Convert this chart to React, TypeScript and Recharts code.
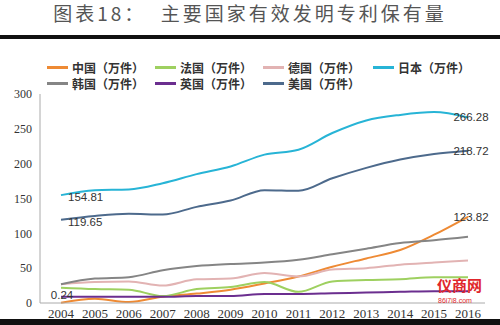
import React from "react";
import { LineChart, Line, XAxis, YAxis, LabelList } from "recharts";

const years = ["2004", "2005", "2006", "2007", "2008", "2009", "2010", "2011", "2012", "2013", "2014", "2015", "2016"];
const china = [0.24, 6, 1.5, 9, 13.5, 19, 28, 38, 52, 64, 76, 98, 123.82];
const france = [22, 20, 19, 10, 20, 23, 30, 16, 31, 33, 34, 37, 37];
const germany = [27, 30, 31, 25, 34, 35, 43, 38, 48, 50, 55, 58, 61];
const japan = [154.81, 162, 163, 172, 185, 196, 213, 220, 244, 262, 270, 274, 266.28];
const korea = [27, 35, 37, 47, 53, 56, 58, 62, 70, 78, 86, 90, 95];
const uk = [9, 9, 9, 9, 10, 10, 13, 13, 14, 15, 16, 17, 17];
const usa = [119.65, 125, 128, 127, 138, 147, 162, 161, 179, 194, 206, 214, 218.72];
const yTicks = [0, 50, 100, 150, 200, 250, 300];

const series = [
  { key: "cn", name: "中国（万件）", color: "#EE8A34", values: china },
  { key: "fr", name: "法国（万件）", color: "#9ED060", values: france },
  { key: "de", name: "德国（万件）", color: "#E2B3B3", values: germany },
  { key: "jp", name: "日本（万件）", color: "#27B4D6", values: japan },
  { key: "kr", name: "韩国（万件）", color: "#858585", values: korea },
  { key: "uk", name: "英国（万件）", color: "#6B2E8F", values: uk },
  { key: "us", name: "美国（万件）", color: "#4D6A8C", values: usa },
];

const data = years.map((y, i) => {
  const row: any = { year: y };
  series.forEach((s) => (row[s.key] = s.values[i]));
  return row;
});

const last = years.length - 1;

// labels shown only at first / last point of some series
const makeLabel = (which: number[], pos: "right" | "top") => (props: any) => {
  const { x, y, value, index } = props;
  if (!which.includes(index)) return null;
  let tx = x + 3;
  let ty = y;
  let anchor: "start" | "middle" = "middle";
  if (index === 0 && pos === "right") {
    tx = x + 7;
    ty = y + 2;
    anchor = "start";
  } else if (index === 0 && pos === "top") {
    tx = x + 1;
    ty = y - 8;
  }
  return (
    <text x={tx} y={ty} textAnchor={anchor} dominantBaseline="central"
      fontSize={11.5} fontFamily="Liberation Sans, Arial, sans-serif" fill="#333">
      {value}
    </text>
  );
};

export default function App() {
  return (
    <div style={{ position: "relative", width: 500, height: 325, background: "#fff", overflow: "hidden" }}>
      <style>{"body{margin:0}"}</style>
      <div style={{ position: "absolute", top: 1, left: 0, width: 500, textAlign: "center", fontFamily: "Noto Sans CJK SC", fontSize: 19, lineHeight: "24px", color: "#555", letterSpacing: 3 }}>
        图表18：&nbsp;&nbsp;主要国家有效发明专利保有量
      </div>
      <div style={{ position: "absolute", top: 35, left: 0, width: 500, height: 4, background: "#111" }} />
      <div style={{ position: "absolute", top: 60, left: 47, display: "grid", gridTemplateColumns: "108px 108px 110px 110px", rowGap: 1 }}>
        {series.map((s) => (
          <div key={s.key} style={{ display: "flex", alignItems: "center", height: 15 }}>
            <div style={{ width: 21, height: 2.5, background: s.color, marginRight: 4 }} />
            <span style={{ fontSize: 12, fontWeight: 700, color: "#333", fontFamily: "Noto Sans CJK SC", whiteSpace: "nowrap" }}>
              {s.name}
            </span>
          </div>
        ))}
      </div>
      <div style={{ position: "absolute", top: 0, left: 0 }}>
        <LineChart width={500} height={325} data={data} margin={{ top: 94, right: 15, bottom: 0, left: 0 }}>
          <XAxis dataKey="year" height={22} padding={{ left: 21, right: 17 }} tickLine={false}
            axisLine={{ stroke: "#aaa" }} tickMargin={0}
            tick={{ fontSize: 13, fill: "#333", fontFamily: "Liberation Serif, serif" }} interval={0} />
          <YAxis width={40} domain={[0, 300]} ticks={yTicks} tickLine={false} axisLine={{ stroke: "#aaa" }}
            tick={{ fontSize: 12, fill: "#333", fontFamily: "Liberation Serif, serif" }} />
          {series.map((s) => (
            <Line key={s.key} dataKey={s.key} name={s.name} type="monotone" stroke={s.color}
              strokeWidth={2} dot={false} isAnimationActive={false}>
              {s.key === "jp" || s.key === "us" ? (
                <LabelList dataKey={s.key} content={makeLabel([0, last], "right")} />
              ) : null}
              {s.key === "cn" ? <LabelList dataKey={s.key} content={makeLabel([0, last], "top")} /> : null}
            </Line>
          ))}
        </LineChart>
      </div>
      <div style={{ position: "absolute", left: 437, top: 276, color: "#E0262C", fontFamily: "Noto Sans CJK SC", fontWeight: 700, fontSize: 15, lineHeight: "18px" }}>
        仪商网
      </div>
      <div style={{ position: "absolute", left: 438, top: 297, color: "#E0262C", fontFamily: "Liberation Sans", fontSize: 7, lineHeight: "8px" }}>
        86i7i8.com
      </div>
      <div style={{ position: "absolute", top: 319, left: 0, width: 500, height: 6, background: "#111" }} />
    </div>
  );
}
